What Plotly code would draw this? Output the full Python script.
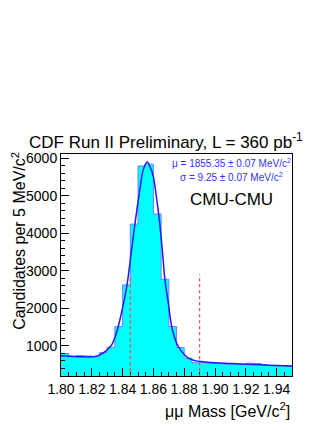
import plotly.graph_objects as go

# histogram: 5 MeV bins from 1.80 to 1.95 GeV/c^2
bin_lo = 1.80
bin_width = 0.005
counts = [790, 715, 735, 725, 710, 815, 960, 1510, 2620, 4240,
          5790, 5840, 4510, 2770, 1510, 950, 665, 545, 555, 530,
          520, 505, 510, 500, 530, 525, 485, 470, 465, 445]

# fitted curve
fit_mass = [1.800, 1.806, 1.812, 1.818, 1.8221, 1.8255, 1.8286, 1.8329, 1.8362,
            1.8394, 1.8427, 1.8455, 1.848, 1.851, 1.8535, 1.856, 1.858, 1.860,
            1.862, 1.864, 1.866, 1.8675, 1.8697, 1.8719, 1.8751, 1.8784, 1.8827,
            1.887, 1.892, 1.900, 1.910, 1.920, 1.930, 1.940, 1.950]
fit_vals = [730, 715, 705, 700, 709, 760, 840, 1020, 1370,
            1900, 2570, 3450, 4240, 5100, 5700, 5900, 5750, 5500,
            4950, 4300, 3450, 2750, 2130, 1510, 1065, 840, 664,
            600, 570, 545, 525, 505, 488, 470, 455]

# mass window cuts (red dashed)
window_edges = [1.845, 1.890]
window_top = 2900

edges = [bin_lo + i * bin_width for i in range(len(counts) + 1)]
step_y = counts + [counts[-1]]

fig = go.Figure()

fig.add_trace(go.Scatter(x=edges, y=step_y, mode='lines', line_shape='hv',
                         line=dict(color='#7b7bff', width=1),
                         fill='tozeroy', fillcolor='#00ffff', hoverinfo='skip'))

fig.add_trace(go.Scatter(x=fit_mass, y=fit_vals, mode='lines', line_shape='spline',
                         line=dict(color='#1a1aff', width=1.5), hoverinfo='skip'))

for m in window_edges:
    fig.add_shape(type='line', x0=m, x1=m, y0=0, y1=window_top, xref='x', yref='y',
                  line=dict(color='#ff4040', width=1.2, dash='dot'), layer='above')

font_main = 'Liberation Sans, Arial, sans-serif'

# page body has an 8px margin, so the figure is 8px smaller than the window
fig.update_layout(
    width=324, height=422,
    margin=dict(l=53, r=40, t=146, b=54),
    plot_bgcolor='white', paper_bgcolor='white',
    showlegend=False,
    font=dict(family=font_main, color='black', size=14),
    xaxis=dict(range=[1.80, 1.95], tickvals=[1.80, 1.82, 1.84, 1.86, 1.88, 1.90, 1.92, 1.94],
               ticktext=['1.80', '1.82', '1.84', '1.86', '1.88', '1.90', '1.92', '1.94'],
               ticks='inside', ticklen=8, tickcolor='black',
               minor=dict(dtick=0.005, tick0=1.80, ticks='inside', ticklen=4, tickcolor='black'),
               showline=True, linecolor='black', linewidth=1, mirror=True,
               showgrid=False, zeroline=False, tickfont=dict(size=14)),
    yaxis=dict(range=[190, 6110], tickvals=[1000, 2000, 3000, 4000, 5000, 6000],
               ticks='inside', ticklen=8, tickcolor='black',
               minor=dict(dtick=200, tick0=0, ticks='inside', ticklen=4, tickcolor='black'),
               showline=True, linecolor='black', linewidth=1, mirror=True,
               showgrid=False, zeroline=False, tickfont=dict(size=14)),
)

fig.add_annotation(x=0.4545, y=1.058, xref='paper', yref='paper', showarrow=False,
                   text='CDF Run II Preliminary, L = 360 pb<sup>-1</sup>',
                   font=dict(size=17), xanchor='center', yanchor='middle')
fig.add_annotation(x=-0.185, y=0.61, xref='paper', yref='paper', showarrow=False,
                   text='Candidates per 5 MeV/c<sup>2</sup>', textangle=-90,
                   font=dict(size=16), xanchor='center', yanchor='middle')
fig.add_annotation(x=1.0, y=-0.153, xref='paper', yref='paper', showarrow=False,
                   text='\u03bc\u03bc Mass [GeV/c<sup>2</sup>]',
                   font=dict(size=16), xanchor='right', yanchor='middle')
fig.add_annotation(x=0.736, y=0.9595, xref='paper', yref='paper', showarrow=False,
                   text='\u03bc = 1855.35 \u00b1 0.07 MeV/c<sup>2</sup>',
                   font=dict(size=10, color='#3030ff'), xanchor='center', yanchor='middle')
fig.add_annotation(x=0.736, y=0.896, xref='paper', yref='paper', showarrow=False,
                   text='\u03c3 = 9.25 \u00b1 0.07 MeV/c<sup>2</sup>',
                   font=dict(size=10, color='#3030ff'), xanchor='center', yanchor='middle')
fig.add_annotation(x=0.736, y=0.793, xref='paper', yref='paper', showarrow=False,
                   text='CMU-CMU', font=dict(size=17), xanchor='center', yanchor='middle')

fig.write_html("out.html")
